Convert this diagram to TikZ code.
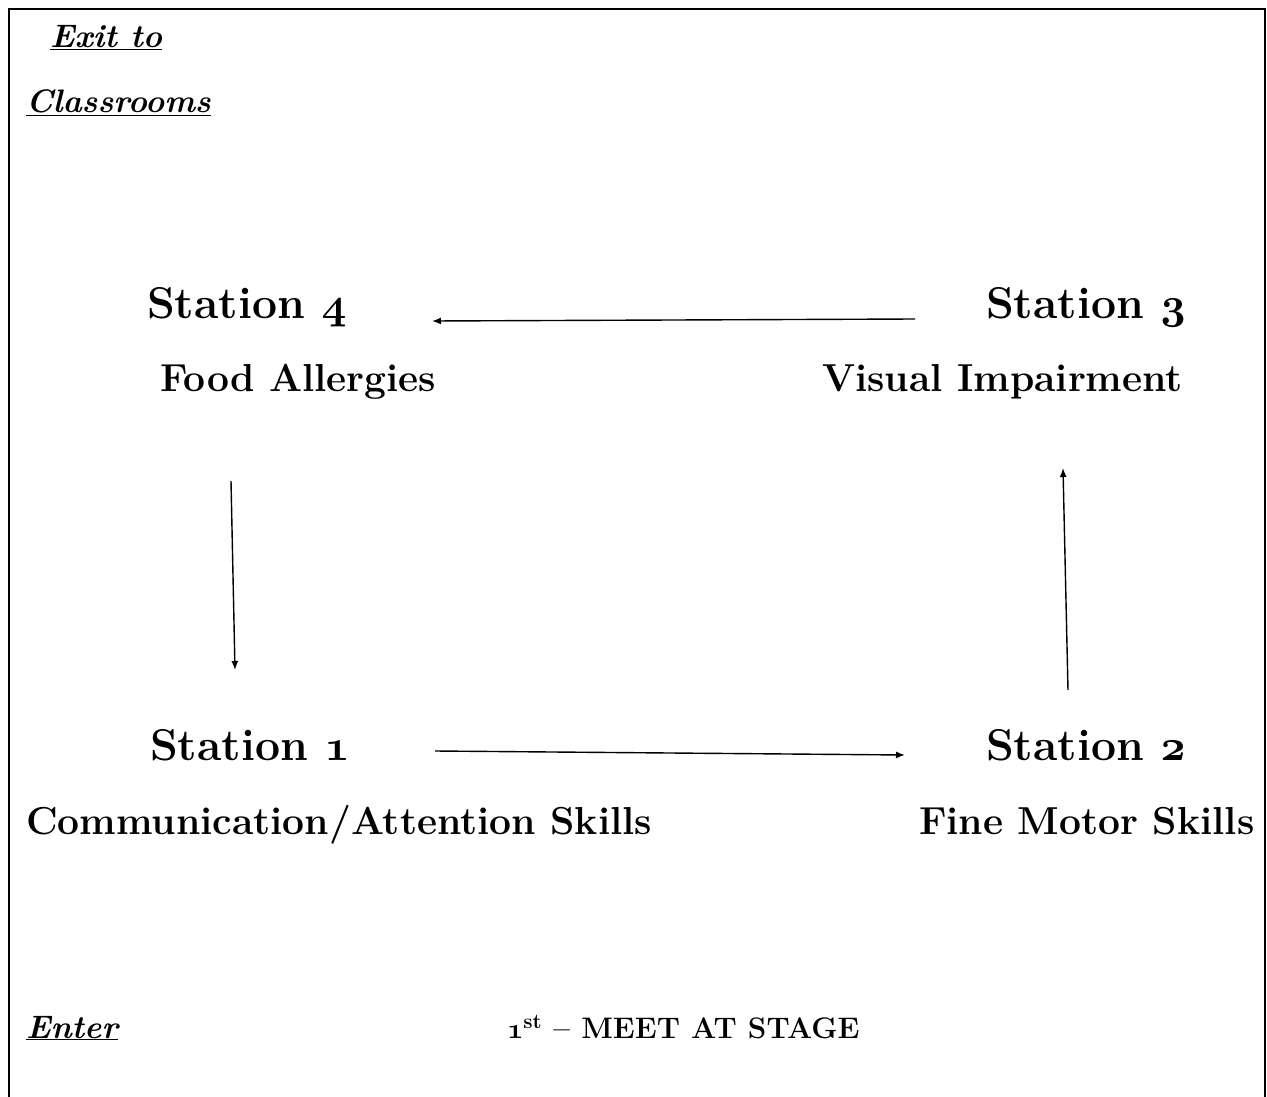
\documentclass[tikz,border=0pt]{standalone}
\usepackage{graphicx}
\usetikzlibrary{arrows.meta}
\newcommand\osnum[2]{\scalebox{#1}{\fontsize{24.88}{28}\usefont{OML}{cmm}{b}{it}#2}}
\tikzset{
  lbl/.style={anchor=base west, inner sep=0pt, outer sep=0pt},
  title/.style={lbl, font=\fontsize{44.5}{50}\selectfont\bfseries},
  sub/.style={lbl, font=\fontsize{39}{43}\selectfont\bfseries},
  small/.style={lbl, font=\fontsize{29.7}{34}\selectfont\bfseries},
  ital/.style={lbl, font=\fontsize{32.5}{36}\selectfont\bfseries\itshape},
  flow/.style={line width=1.4pt, -{Latex[length=9pt,width=7pt]}},
}
\begin{document}
\begin{tikzpicture}[x=1pt,y=-1pt]
\useasboundingbox (0,0) rectangle (1267,1097);
\draw[line width=2.5pt] (9,1097) -- (9,9) -- (1265,9) -- (1265,1097);

\node[ital] (exit) at (50,48) {\underline{Exit to}};
\node[ital] (class) at (26,113) {\underline{Classrooms}};

\node[title] (s4) at (147,318) {Station \osnum{1.75}{4}};
\node[sub] (s4t) at (160,391) {Food Allergies};
\node[title] (s3) at (986,318) {Station \osnum{1.75}{3}};
\node[sub] (s3t) at (822,391) {Visual Impairment};
\node[title] (s1) at (150,760) {Station \osnum{1.75}{1}};
\node[sub] (s1t) at (26,834) {Communication/Attention Skills};
\node[title] (s2) at (986,760) {Station \osnum{1.75}{2}};
\node[sub] (s2t) at (919,834) {Fine Motor Skills};

\node[ital] (enter) at (26,1038) {\underline{Enter}};
\node[small] (meet) at (507,1038) {\osnum{1.15}{1}\textsuperscript{st} -- MEET AT STAGE};

\coordinate (a3s) at (915,319);
\coordinate (a3e) at (432,321);
\coordinate (a4s) at (231,481);
\coordinate (a4e) at (235,670);
\coordinate (a1s) at (435,751);
\coordinate (a1e) at (905,755);
\coordinate (a2s) at (1068,690);
\coordinate (a2e) at (1063,468);

\draw[flow] (a3s) -- (a3e);
\draw[flow] (a4s) -- (a4e);
\draw[flow] (a1s) -- (a1e);
\draw[flow] (a2s) -- (a2e);
\end{tikzpicture}
\end{document}
